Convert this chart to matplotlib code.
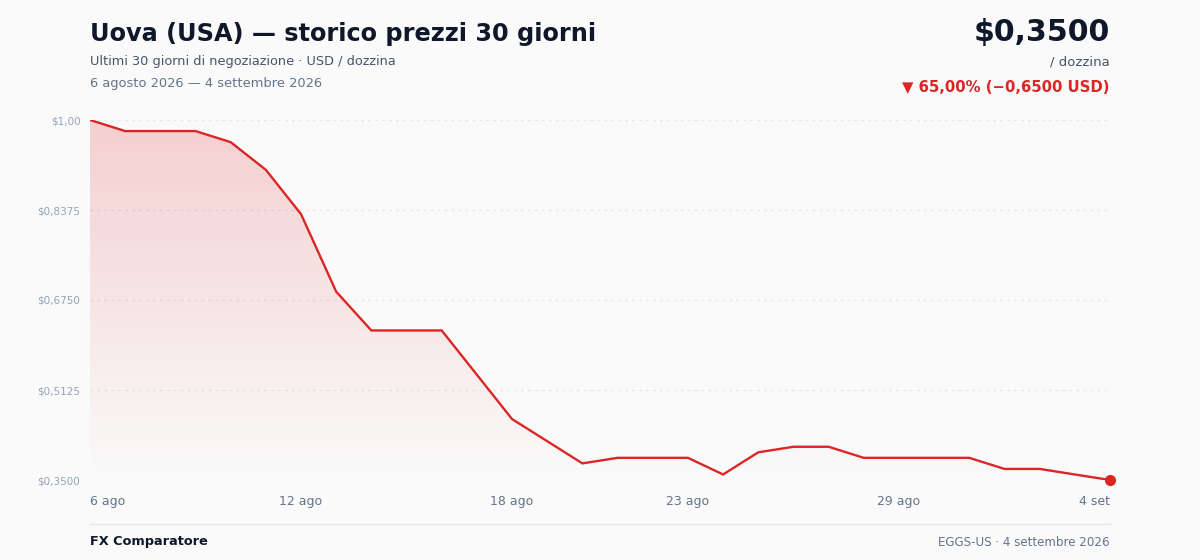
import numpy as np
import matplotlib.pyplot as plt
from matplotlib.colors import LinearSegmentedColormap

# dati
giorni = [f'{d} ago' for d in range(6, 32)] + [f'{d} set' for d in range(1, 5)]
prezzi = [1.00, 0.98, 0.98, 0.98, 0.96, 0.91, 0.83, 0.69, 0.62, 0.62,
          0.62, 0.54, 0.46, 0.42, 0.38, 0.39, 0.39, 0.39, 0.36, 0.40,
          0.41, 0.41, 0.39, 0.39, 0.39, 0.39, 0.37, 0.37, 0.36, 0.35]
tick_giorni = ['6 ago', '12 ago', '18 ago', '23 ago', '29 ago', '4 set']
y_ticks = [0.35, 0.5125, 0.675, 0.8375, 1.00]
y_labels = ['$0,3500', '$0,5125', '$0,6750', '$0,8375', '$1,00']

ROSSO = '#dc2626'
BG = '#fafafa'

W, H = 1200, 560
fig = plt.figure(figsize=(12, 5.6), dpi=100, facecolor=BG)
ax = fig.add_axes([90 / W, 1 - 480 / H, 1020 / W, 360 / H])
ax.set_facecolor(BG)

x = np.arange(len(prezzi))
ymin, ymax = 0.35, 1.00

# griglia tratteggiata
for v in y_ticks:
    ax.axhline(v, color='#e2e8f0', lw=1, ls=(0, (2, 3)), zorder=1)

# area con sfumatura
poly = ax.fill_between(x, prezzi, ymin, color='none', lw=0)
cmap = LinearSegmentedColormap.from_list('fade', [(0.863, 0.149, 0.149, 0.0),
                                                   (0.863, 0.149, 0.149, 0.20)])
grad = np.linspace(0, 1, 256).reshape(-1, 1)
img = ax.imshow(grad, cmap=cmap, aspect='auto', origin='lower',
                extent=[0, len(prezzi) - 1, ymin, ymax], zorder=2)
img.set_clip_path(poly.get_paths()[0], transform=ax.transData)

ax.plot(x, prezzi, color=ROSSO, lw=1.7, zorder=3, solid_joinstyle='miter')
ax.plot(x[-1], prezzi[-1], 'o', color=ROSSO, ms=7, zorder=4, clip_on=False)

ax.set_xlim(0, len(prezzi) - 1)
ax.set_ylim(ymin, ymax)
for s in ax.spines.values():
    s.set_visible(False)
ax.tick_params(length=0)

ax.set_yticks(y_ticks)
ax.set_yticklabels(y_labels, fontsize=7.5, color='#94a3b8')
ax.tick_params(axis='y', pad=7)

pos = [giorni.index(t) for t in tick_giorni]
ax.set_xticks(pos)
ax.set_xticklabels(tick_giorni, fontsize=9, color='#64748b')
ax.tick_params(axis='x', pad=11)
lbls = ax.get_xticklabels()
lbls[0].set_ha('left')
lbls[-1].set_ha('right')


def ftxt(px, py, s, **kw):
    fig.text(px / W, 1 - py / H, s, va='center', **kw)


# intestazione
ftxt(90, 34, 'Uova (USA) — storico prezzi 30 giorni', fontsize=17.3,
     fontweight='bold', color='#0f172a')
ftxt(90, 61, 'Ultimi 30 giorni di negoziazione · USD / dozzina',
     fontsize=9.3, color='#475569')
ftxt(90, 83, '6 agosto 2026 — 4 settembre 2026', fontsize=9.35, color='#64748b')

ftxt(1110, 33, '$0,3500', fontsize=21.6, fontweight='bold', color='#0f172a', ha='right')
ftxt(1110, 62, '/ dozzina', fontsize=9.5, color='#475569', ha='right')
ftxt(1110, 87, '▼ 65,00% (−0,6500 USD)', fontsize=10.7, fontweight='bold',
     color=ROSSO, ha='right')

# piè di pagina
fig.add_artist(plt.Line2D([90 / W, 1110 / W], [1 - 524 / H, 1 - 524 / H],
                          color='#e5e7eb', lw=1))
ftxt(90, 542, 'FX Comparatore', fontsize=9.3, fontweight='bold', color='#0f172a')
ftxt(1110, 542, 'EGGS-US · 4 settembre 2026', fontsize=8.6, color='#64748b', ha='right')

fig.savefig('out.png', dpi=100, facecolor=BG)
